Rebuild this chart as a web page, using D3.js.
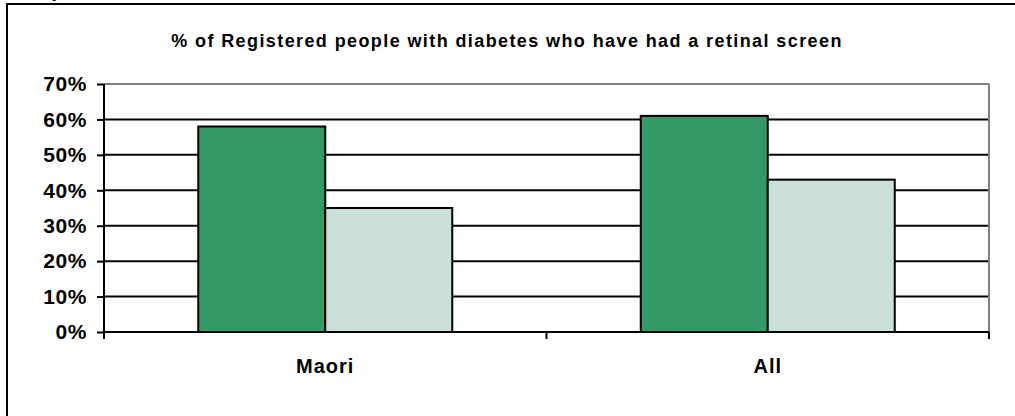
<!DOCTYPE html>
<html>
<head>
<meta charset="utf-8">
<script src="https://cdn.jsdelivr.net/npm/d3@7"></script>
<style>
  body { margin: 0; background: #fff; }
  text { font-family: Arial, "Liberation Sans", sans-serif; font-weight: bold; fill: #000; }
</style>
</head>
<body>
<script>
// chart data
var categories = ['Maori', 'All'];
var seriesNames = ['Series 1', 'Series 2'];
var seriesDark = [58, 61];
var seriesLight = [35, 43];
var yTicks = [0, 10, 20, 30, 40, 50, 60, 70];
var title = '% of Registered people with diabetes who have had a retinal screen';

var width = 1015, height = 416;
var plot = { left: 104, right: 989, top: 84, bottom: 332 };
var colors = ['#339966', '#cbe0d9'];

var svg = d3.select('body').append('svg')
  .attr('width', width)
  .attr('height', height);

// outer frame (runs off the right and bottom edge)
svg.append('rect')
  .attr('x', 7).attr('y', 4)
  .attr('width', 1020).attr('height', 430)
  .attr('fill', '#fff')
  .attr('stroke', '#000')
  .attr('stroke-width', 2);

// clipped text peeking above the frame
svg.append('text')
  .attr('x', 52).attr('y', -2)
  .style('font-size', '16px')
  .text('y');

svg.append('text')
  .attr('x', 507).attr('y', 47)
  .attr('text-anchor', 'middle')
  .style('font-size', '18px')
  .style('letter-spacing', '1.4px')
  .text(title);

var y = d3.scaleLinear()
  .domain([0, 70])
  .range([plot.bottom, plot.top]);

var x0 = d3.scaleBand()
  .domain(categories)
  .range([plot.left, plot.right])
  .paddingInner(0.426)
  .paddingOuter(0.213);

var x1 = d3.scaleBand()
  .domain(seriesNames)
  .range([0, x0.bandwidth()]);

// gridlines
svg.append('g')
  .selectAll('line')
  .data(yTicks.filter(function(d) { return d > 0; }))
  .enter().append('line')
  .attr('x1', plot.left).attr('x2', plot.right)
  .attr('y1', function(d) { return y(d); })
  .attr('y2', function(d) { return y(d); })
  .attr('stroke', function(d) { return d === 70 ? '#808080' : '#000'; })
  .attr('stroke-width', 2);

// right border of plot
svg.append('line')
  .attr('x1', plot.right).attr('x2', plot.right)
  .attr('y1', plot.top).attr('y2', plot.bottom)
  .attr('stroke', '#808080')
  .attr('stroke-width', 2);

// bars
var rows = categories.map(function(c, i) {
  return { cat: c, vals: [seriesDark[i], seriesLight[i]] };
});

var group = svg.append('g')
  .selectAll('g')
  .data(rows)
  .enter().append('g')
  .attr('transform', function(d) { return 'translate(' + x0(d.cat) + ',0)'; });

group.selectAll('rect')
  .data(function(d) { return d.vals; })
  .enter().append('rect')
  .attr('x', function(d, i) { return x1(seriesNames[i]); })
  .attr('y', function(d) { return y(d); })
  .attr('width', x1.bandwidth())
  .attr('height', function(d) { return y(0) - y(d); })
  .attr('fill', function(d, i) { return colors[i]; })
  .attr('stroke', '#000')
  .attr('stroke-width', 2);

// y axis
var yAxis = d3.axisLeft(y)
  .tickValues(yTicks)
  .tickSize(7)
  .tickPadding(10)
  .tickFormat(function(d) { return d + '%'; });

var gy = svg.append('g')
  .attr('transform', 'translate(' + plot.left + ',0)')
  .call(yAxis);
gy.select('.domain').attr('stroke', '#000').attr('stroke-width', 2)
  .attr('d', 'M0,' + plot.top + 'V' + (plot.bottom + 7));
gy.selectAll('.tick line').attr('stroke', '#000').attr('stroke-width', 2);
gy.selectAll('.tick text')
  .style('font-size', '21px')
  .style('letter-spacing', '0.6px')
  .style('font-family', 'Arial, "Liberation Sans", sans-serif')
  .style('font-weight', 'bold');

// x axis with ticks at band boundaries
var gx = svg.append('g')
  .attr('transform', 'translate(0,' + plot.bottom + ')');
gx.append('line')
  .attr('x1', plot.left).attr('x2', plot.right)
  .attr('stroke', '#000').attr('stroke-width', 2);
var bounds = [plot.left, (plot.left + plot.right) / 2, plot.right];
gx.selectAll('.xt')
  .data(bounds)
  .enter().append('line')
  .attr('x1', function(d) { return d; })
  .attr('x2', function(d) { return d; })
  .attr('y1', 0).attr('y2', 7)
  .attr('stroke', '#000').attr('stroke-width', 2);

gx.selectAll('text')
  .data(categories)
  .enter().append('text')
  .attr('x', function(d) { return x0(d) + x0.bandwidth() / 2; })
  .attr('y', 41)
  .attr('text-anchor', 'middle')
  .style('font-size', '20px')
  .style('letter-spacing', '1px')
  .text(function(d) { return d; });
</script>
</body>
</html>
